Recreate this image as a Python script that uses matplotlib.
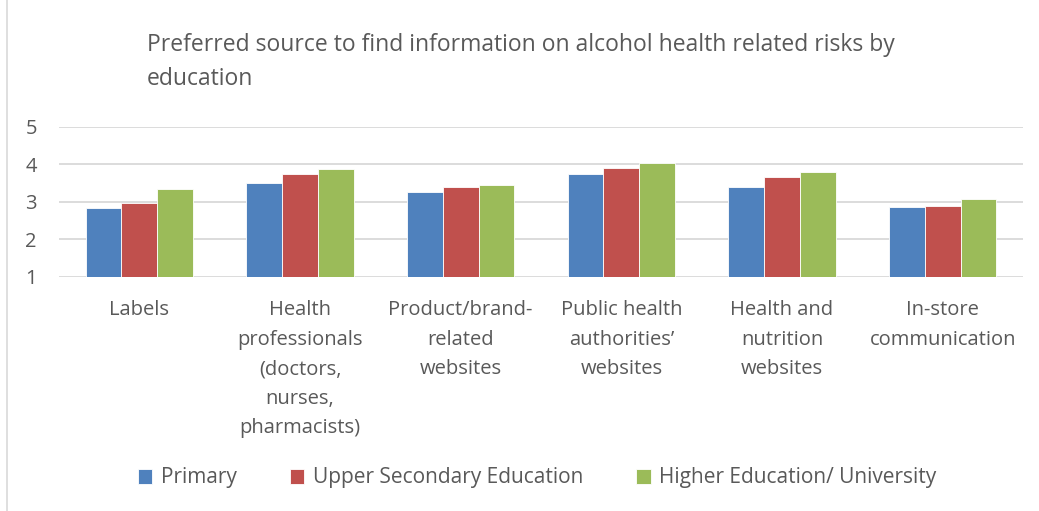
import matplotlib.pyplot as plt
import numpy as np
from matplotlib.patches import Rectangle

# data
categories = ["Labels",
              "Health\nprofessionals\n(doctors,\nnurses,\npharmacists)",
              "Product/brand-\nrelated\nwebsites",
              "Public health\nauthorities’\nwebsites",
              "Health and\nnutrition\nwebsites",
              "In-store\ncommunication"]
series_names = ["Primary", "Upper Secondary Education", "Higher Education/ University"]
primary = [2.84, 3.50, 3.25, 3.74, 3.39, 2.87]
upper_secondary = [2.96, 3.75, 3.39, 3.89, 3.65, 2.88]
higher_education = [3.33, 3.86, 3.45, 4.04, 3.80, 3.08]
colors = ['#4F81BD', '#C0504D', '#9BBB59']

plt.rcParams['font.family'] = ['Open Sans', 'DejaVu Sans']
text_col = '#595959'

fig = plt.figure(figsize=(10.39, 5.11), dpi=100)
ax = fig.add_axes([59/1039, 1 - 276.7/511, (1023-59)/1039, (276.7-126.7)/511])

x = np.arange(len(categories))
w = 0.222
for i, (vals, name) in enumerate(zip([primary, upper_secondary, higher_education], series_names)):
    ax.bar(x + (i - 1) * w, np.array(vals) - 1, width=w, bottom=1, color=colors[i],
           label=name, edgecolor='white', linewidth=0.6, zorder=3)

ax.set_ylim(1, 5)
ax.set_xlim(-0.5, len(categories) - 0.5)
ax.set_yticks([1, 2, 3, 4, 5])
ax.yaxis.grid(True, color='#D9D9D9', linewidth=1.3, zorder=0)
ax.set_xticks(x)
ax.set_xticklabels(categories, fontsize=14.5, color=text_col, linespacing=1.63, va='top')
ax.tick_params(axis='x', length=0, pad=17)
ax.tick_params(axis='y', length=0, pad=16, labelsize=14.5, labelcolor=text_col)
for s in ax.spines.values():
    s.set_visible(False)

fig.text(147/1039, 1 - 62/511,
         "Preferred source to find information on alcohol health related risks by\neducation",
         fontsize=16.5, color=text_col, ha='left', va='center', linespacing=1.53)

fig.legend(loc='center', bbox_to_anchor=(537/1039, 1 - 478/511), ncol=3, frameon=False,
           fontsize=15, handlelength=0.7, handleheight=0.7, handletextpad=0.4,
           columnspacing=2.55, labelcolor=text_col)

# chart frame
fig.patches.append(Rectangle((7/1039, -0.01), 1.02, 1.02, transform=fig.transFigure,
                             fill=False, edgecolor='#D9D9D9', linewidth=1.2))

fig.savefig("out.png", dpi=100)
